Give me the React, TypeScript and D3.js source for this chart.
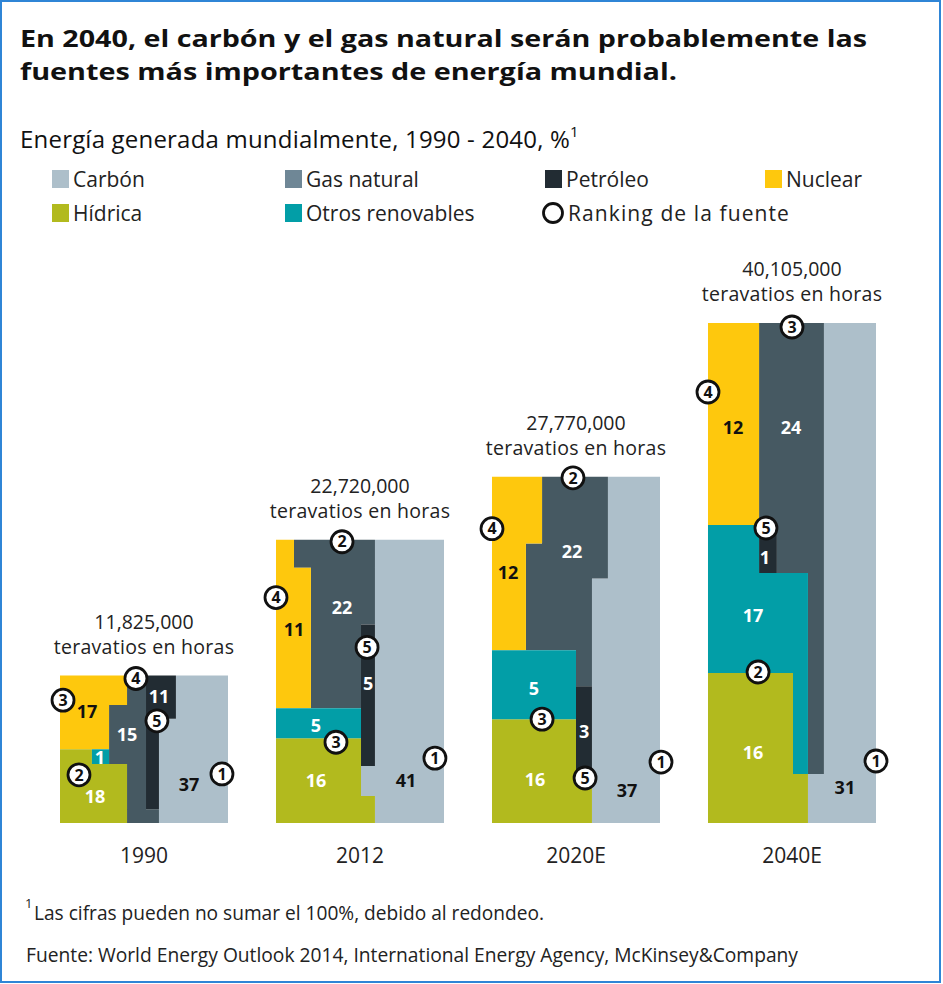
import React from "react";
import * as d3 from "d3";

// ---------- DATA ----------
const years = ["1990", "2012", "2020E", "2040E"];
const totals = [11825000, 22720000, 27770000, 40105000];
const totalLabels = ["11,825,000", "22,720,000", "27,770,000", "40,105,000"];
const unitLabel = "teravatios en horas";

const sourceKeys = ["coal", "gas", "oil", "nuclear", "hydro", "other"];
const sourceNames = ["Carbón", "Gas natural", "Petróleo", "Nuclear", "Hídrica", "Otros renovables"];

// share of world generation, %
const coal = [37, 41, 37, 31];
const gas = [15, 22, 22, 24];
const oil = [11, 5, 3, 1];
const nuclear = [17, 11, 12, 12];
const hydro = [18, 16, 16, 16];
const otherRenewables = [1, 5, 5, 17];

// ranking of the source
const rankCoal = [1, 1, 1, 1];
const rankGas = [4, 2, 2, 3];
const rankOil = [5, 5, 5, 5];
const rankNuclear = [3, 4, 4, 4];
const rankHydro = [2, 3, 3, 2];

const values: Record<string, number[]> = {
  coal, gas, oil, nuclear, hydro, other: otherRenewables,
};
const ranks: Record<string, number[]> = {
  coal: rankCoal, gas: rankGas, oil: rankOil, nuclear: rankNuclear, hydro: rankHydro,
};

// ---------- STYLE ----------
const fillColors: Record<string, string> = {
  coal: "#adbfca",
  gas: "#465962",
  oil: "#222c33",
  nuclear: "#fec80d",
  hydro: "#b2ba1e",
  other: "#029ea7",
};
const legendColors: Record<string, string> = { ...fillColors, gas: "#6f8796" };
const labelColors: Record<string, string> = {
  coal: "#111", gas: "#fff", oil: "#fff", nuclear: "#111", hydro: "#fff", other: "#fff",
};

// ---------- LAYOUT of the interlocking blocks (fractions of each bar: x 0..1 left->right, y 0..1 top->bottom) ----------
type Pt = [number, number];
type Block = { shape: Pt[]; label: Pt; rank?: Pt };
const blockLayout: Record<string, Block>[] = [
  {
    nuclear: { shape: [[0, 0], [0.399, 0], [0.399, 0.2], [0.292, 0.2], [0.292, 0.5], [0, 0.5]], label: [0.161, 0.247], rank: [0.018, 0.167] },
    gas: { shape: [[0.399, 0], [0.512, 0], [0.512, 0.907], [0.589, 0.907], [0.589, 1], [0.399, 1], [0.399, 0.6], [0.292, 0.6], [0.292, 0.2], [0.399, 0.2]], label: [0.399, 0.4], rank: [0.452, 0.02] },
    oil: { shape: [[0.512, 0], [0.69, 0], [0.69, 0.293], [0.589, 0.293], [0.589, 0.907], [0.512, 0.907]], label: [0.589, 0.14], rank: [0.577, 0.307] },
    coal: { shape: [[0.69, 0], [1, 0], [1, 1], [0.589, 1], [0.589, 0.293], [0.69, 0.293]], label: [0.768, 0.74], rank: [0.964, 0.667] },
    other: { shape: [[0.19, 0.5], [0.292, 0.5], [0.292, 0.6], [0.19, 0.6]], label: [0.238, 0.553] },
    hydro: { shape: [[0, 0.5], [0.19, 0.5], [0.19, 0.6], [0.399, 0.6], [0.399, 1], [0, 1]], label: [0.208, 0.82], rank: [0.113, 0.673] },
  },
  {
    nuclear: { shape: [[0, 0], [0.107, 0], [0.107, 0.099], [0.208, 0.099], [0.208, 0.595], [0, 0.595]], label: [0.107, 0.317], rank: [0, 0.204] },
    gas: { shape: [[0.107, 0], [0.589, 0], [0.589, 0.299], [0.506, 0.299], [0.506, 0.595], [0.208, 0.595], [0.208, 0.099], [0.107, 0.099]], label: [0.393, 0.239], rank: [0.393, 0.007] },
    oil: { shape: [[0.506, 0.299], [0.589, 0.299], [0.589, 0.799], [0.506, 0.799]], label: [0.548, 0.507], rank: [0.542, 0.38] },
    coal: { shape: [[0.589, 0], [1, 0], [1, 1], [0.589, 1], [0.589, 0.905], [0.506, 0.905], [0.506, 0.799], [0.589, 0.799]], label: [0.774, 0.849], rank: [0.946, 0.771] },
    other: { shape: [[0, 0.595], [0.506, 0.595], [0.506, 0.701], [0, 0.701]], label: [0.238, 0.655] },
    hydro: { shape: [[0, 0.701], [0.506, 0.701], [0.506, 0.905], [0.589, 0.905], [0.589, 1], [0, 1]], label: [0.238, 0.849], rank: [0.357, 0.715] },
  },
  {
    nuclear: { shape: [[0, 0], [0.298, 0], [0.298, 0.193], [0.202, 0.193], [0.202, 0.501], [0, 0.501]], label: [0.095, 0.277], rank: [0, 0.15] },
    gas: { shape: [[0.298, 0], [0.69, 0], [0.69, 0.294], [0.595, 0.294], [0.595, 0.605], [0.5, 0.605], [0.5, 0.501], [0.202, 0.501], [0.202, 0.193], [0.298, 0.193]], label: [0.476, 0.216], rank: [0.482, 0.003] },
    oil: { shape: [[0.5, 0.605], [0.595, 0.605], [0.595, 0.89], [0.5, 0.89]], label: [0.548, 0.735], rank: [0.554, 0.87] },
    coal: { shape: [[0.69, 0], [1, 0], [1, 1], [0.595, 1], [0.595, 0.294], [0.69, 0.294]], label: [0.804, 0.905], rank: [1.006, 0.824] },
    other: { shape: [[0, 0.501], [0.5, 0.501], [0.5, 0.7], [0, 0.7]], label: [0.25, 0.611] },
    hydro: { shape: [[0, 0.7], [0.5, 0.7], [0.5, 0.89], [0.595, 0.89], [0.595, 1], [0, 1]], label: [0.256, 0.873], rank: [0.298, 0.7] },
  },
  {
    nuclear: { shape: [[0, 0], [0.304, 0], [0.304, 0.404], [0, 0.404]], label: [0.149, 0.21], rank: [0, 0.138] },
    gas: { shape: [[0.304, 0], [0.69, 0], [0.69, 0.902], [0.595, 0.902], [0.595, 0.5], [0.41, 0.5], [0.41, 0.404], [0.304, 0.404]], label: [0.494, 0.21], rank: [0.5, 0.008] },
    oil: { shape: [[0.304, 0.404], [0.41, 0.404], [0.41, 0.5], [0.304, 0.5]], label: [0.339, 0.47], rank: [0.345, 0.41] },
    coal: { shape: [[0.69, 0], [1, 0], [1, 1], [0.595, 1], [0.595, 0.902], [0.69, 0.902]], label: [0.815, 0.93], rank: [1.0, 0.876] },
    other: { shape: [[0, 0.404], [0.304, 0.404], [0.304, 0.5], [0.595, 0.5], [0.595, 0.902], [0.506, 0.902], [0.506, 0.7], [0, 0.7]], label: [0.268, 0.586] },
    hydro: { shape: [[0, 0.7], [0.506, 0.7], [0.506, 0.902], [0.595, 0.902], [0.595, 1], [0, 1]], label: [0.268, 0.86], rank: [0.298, 0.698] },
  },
];

const FONT = "'Open Sans', 'Noto Sans', sans-serif";
const W = 943;
const H = 984;

function RankCircle({ cx, cy, n, r = 11 }: { cx: number; cy: number; n?: number; r?: number }) {
  return (
    <g>
      <circle cx={cx} cy={cy} r={r} fill="#fff" stroke="#111" strokeWidth={2.8} />
      {n !== undefined && (
        <text x={cx} y={cy} dy="0.36em" textAnchor="middle" fontFamily={FONT} fontWeight={700} fontSize={16} fill="#111">
          {n}
        </text>
      )}
    </g>
  );
}

export default function App() {
  const baseY = 823;
  const x = d3.scaleBand<string>().domain(years).range([60, 876]).paddingInner(0.2222).paddingOuter(0);
  const hScale = d3.scaleLinear().domain([0, d3.max(totals) as number]).range([0, 500]);
  const line = d3.line();

  const legendRow1 = [0, 1, 2, 3];
  const legendRow2 = [4, 5];
  const legendX = [52, 285, 545, 765];
  const legendY = [170, 204];

  return (
    <svg width={W} height={H} style={{ position: "absolute", left: 0, top: 0, background: "#fff" }}>
      <rect x={0} y={0} width={W} height={H} fill="#fff" />
      <rect x={1} y={1} width={939} height={981} fill="none" stroke="#2f85d6" strokeWidth={2} />

      {/* Title */}
      <text x={20} y={47} fontFamily={FONT} fontWeight={700} fontSize={24} fill="#111" textLength={847} lengthAdjust="spacingAndGlyphs">
        En 2040, el carbón y el gas natural serán probablemente las
      </text>
      <text x={20} y={80} fontFamily={FONT} fontWeight={700} fontSize={24} fill="#111" textLength={657} lengthAdjust="spacingAndGlyphs">
        fuentes más importantes de energía mundial.
      </text>

      {/* Subtitle */}
      <text x={20} y={148} fontFamily={FONT} fontSize={24} fill="#111" letterSpacing={0.2}>
        Energía generada mundialmente, 1990 - 2040, %
        <tspan fontSize={15} dy={-11}>1</tspan>
      </text>

      {/* Legend */}
      {legendRow1.map((si, j) => (
        <g key={sourceKeys[si]}>
          <rect x={legendX[j]} y={legendY[0]} width={17} height={18} fill={legendColors[sourceKeys[si]]} />
          <text x={legendX[j] + 21} y={legendY[0] + 17} fontFamily={FONT} fontSize={21} fill="#222">
            {sourceNames[si]}
          </text>
        </g>
      ))}
      {legendRow2.map((si, j) => (
        <g key={sourceKeys[si]}>
          <rect x={legendX[j]} y={legendY[1]} width={17} height={18} fill={legendColors[sourceKeys[si]]} />
          <text x={legendX[j] + 21} y={legendY[1] + 17} fontFamily={FONT} fontSize={21} fill="#222">
            {sourceNames[si]}
          </text>
        </g>
      ))}
      <RankCircle cx={legendX[2] + 8} cy={legendY[1] + 9} r={9.5} />
      <text x={legendX[2] + 23} y={legendY[1] + 17} fontFamily={FONT} fontSize={21} fill="#222" letterSpacing={1.1}>
        Ranking de la fuente
      </text>

      {/* Bars */}
      {years.map((yr, i) => {
        const left = x(yr) as number;
        const w = x.bandwidth();
        const h = hScale(totals[i]);
        const top = baseY - h;
        const u = d3.scaleLinear().domain([0, 1]).range([left, left + w]);
        const v = d3.scaleLinear().domain([0, 1]).range([top, baseY]);
        const lay = blockLayout[i];
        const order = ["coal", "gas", "oil", "nuclear", "hydro", "other"];
        return (
          <g key={yr}>
            {order.map((k) => (
              <path
                key={k}
                d={(line(lay[k].shape.map(([a, b]) => [u(a), v(b)] as [number, number])) || "") + "Z"}
                fill={fillColors[k]}
              />
            ))}
            {order.map((k) => (
              <text
                key={k + "l"}
                x={u(lay[k].label[0])}
                y={v(lay[k].label[1])}
                dy="0.36em"
                textAnchor="middle"
                fontFamily={FONT}
                fontWeight={700}
                fontSize={18}
                fill={labelColors[k]}
              >
                {values[k][i]}
              </text>
            ))}
            {order
              .filter((k) => lay[k].rank && ranks[k])
              .map((k) => (
                <RankCircle key={k + "r"} cx={u(lay[k].rank![0])} cy={v(lay[k].rank![1])} n={ranks[k][i]} />
              ))}
            <text x={left + w / 2} y={top - 47} textAnchor="middle" fontFamily={FONT} fontSize={19.5} fill="#222">
              {totalLabels[i]}
            </text>
            <text x={left + w / 2} y={top - 22} textAnchor="middle" fontFamily={FONT} fontSize={19.5} fill="#222" letterSpacing={0.3}>
              {unitLabel}
            </text>
            <text x={left + w / 2} y={863} textAnchor="middle" fontFamily={FONT} fontSize={21} fill="#222">
              {yr}
            </text>
          </g>
        );
      })}

      {/* Footnotes */}
      <text x={25} y={908} fontFamily={FONT} fontSize={13} fill="#222">1</text>
      <text x={34} y={920} fontFamily={FONT} fontSize={20} fill="#222" textLength={510} lengthAdjust="spacingAndGlyphs">
        Las cifras pueden no sumar el 100%, debido al redondeo.
      </text>
      <text x={26} y={962} fontFamily={FONT} fontSize={20} fill="#222" textLength={772} lengthAdjust="spacingAndGlyphs">
        Fuente: World Energy Outlook 2014, International Energy Agency, McKinsey&amp;Company
      </text>
    </svg>
  );
}
